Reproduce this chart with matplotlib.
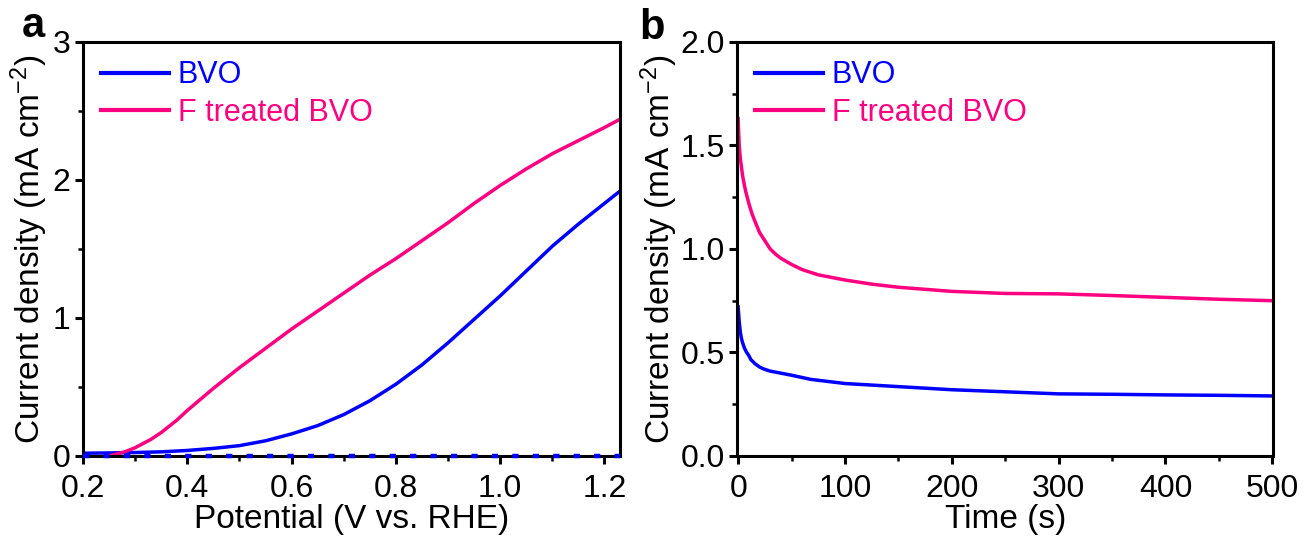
import matplotlib.pyplot as plt
from matplotlib.ticker import MultipleLocator

plt.rcParams['font.family'] = ['Liberation Sans', 'DejaVu Sans']
plt.rcParams['mathtext.fontset'] = 'custom'
plt.rcParams['mathtext.rm'] = 'Liberation Sans'
plt.rcParams['mathtext.it'] = 'Liberation Sans'

# panel a : LSV
pot_bvo = [0.20, 0.25, 0.30, 0.35, 0.40, 0.45, 0.50, 0.55, 0.60, 0.65, 0.70, 0.75, 0.80, 0.85,
           0.90, 0.95, 1.00, 1.05, 1.10, 1.15, 1.20, 1.23]
j_bvo = [0.020, 0.022, 0.025, 0.030, 0.040, 0.055, 0.075, 0.11, 0.16, 0.22, 0.30, 0.40, 0.52, 0.66,
         0.82, 0.99, 1.16, 1.34, 1.52, 1.68, 1.83, 1.92]
pot_f = [0.22, 0.25, 0.28, 0.30, 0.33, 0.35, 0.38, 0.40, 0.45, 0.50, 0.55, 0.60, 0.65, 0.70, 0.75,
         0.80, 0.85, 0.90, 0.95, 1.00, 1.05, 1.10, 1.15, 1.20, 1.23]
j_f = [-0.01, 0.0, 0.03, 0.06, 0.12, 0.17, 0.26, 0.33, 0.49, 0.64, 0.78, 0.92, 1.05, 1.18, 1.31,
       1.43, 1.56, 1.69, 1.83, 1.96, 2.08, 2.19, 2.285, 2.38, 2.44]
pot_dark = [0.20, 1.23]
j_dark = [0.003, 0.003]

# panel b : i-t
t_bvo = [0, 1, 2, 3, 4, 6, 8, 10, 12, 16, 20, 24, 30, 40, 50, 68, 100, 150, 200, 250, 300, 350,
         400, 450, 500]
i_bvo = [0.72, 0.65, 0.60, 0.57, 0.55, 0.52, 0.50, 0.485, 0.465, 0.445, 0.43, 0.42, 0.41, 0.40,
         0.39, 0.37, 0.35, 0.335, 0.32, 0.31, 0.30, 0.298, 0.295, 0.293, 0.29]
t_f = [0, 1, 2, 3, 4, 5, 7, 10, 13, 16, 20, 25, 30, 35, 40, 50, 60, 75, 100, 125, 150, 200, 250,
       300, 350, 400, 450, 500]
i_f = [1.63, 1.50, 1.44, 1.40, 1.36, 1.33, 1.28, 1.22, 1.17, 1.13, 1.08, 1.04, 1.00, 0.975, 0.955,
       0.925, 0.90, 0.875, 0.85, 0.83, 0.815, 0.795, 0.785, 0.783, 0.775, 0.766, 0.757, 0.75]

blue = '#0000ff'
pink = '#ff0080'

fig = plt.figure(figsize=(13.08, 5.47), dpi=100)
ax1 = fig.add_axes([0.0635, 0.1664, 0.4106, 0.757])
ax2 = fig.add_axes([0.5635, 0.1664, 0.4100, 0.757])

ax1.plot(pot_bvo, j_bvo, color=blue, lw=2.5, label='BVO')
ax1.plot(pot_f, j_f, color=pink, lw=2.5, label='F treated BVO')
ax1.plot(pot_dark, j_dark, color=blue, lw=3.2, ls=(0, (1.4, 3.2)), clip_on=False, zorder=5)
ax1.set_xlim(0.2, 1.23)
ax1.set_ylim(0, 3)
ax1.xaxis.set_major_locator(MultipleLocator(0.2))
ax1.xaxis.set_minor_locator(MultipleLocator(0.1))
ax1.yaxis.set_major_locator(MultipleLocator(1))
ax1.yaxis.set_minor_locator(MultipleLocator(0.5))
ax1.xaxis.set_major_formatter(plt.FormatStrFormatter('%.1f'))
ax1.set_xlabel('Potential (V vs. RHE)', fontsize=24, labelpad=0)
ax1.set_ylabel('Current density (mA cm$^{-2}$)', fontsize=24, labelpad=2)

ax2.plot(t_bvo, i_bvo, color=blue, lw=2.5, label='BVO')
ax2.plot(t_f, i_f, color=pink, lw=2.5, label='F treated BVO')
ax2.set_xlim(-1, 501)
ax2.set_ylim(0, 2)
ax2.xaxis.set_major_locator(MultipleLocator(100))
ax2.xaxis.set_minor_locator(MultipleLocator(50))
ax2.yaxis.set_major_locator(MultipleLocator(0.5))
ax2.yaxis.set_minor_locator(MultipleLocator(0.25))
ax2.yaxis.set_major_formatter(plt.FormatStrFormatter('%.1f'))
ax2.set_xlabel('Time (s)', fontsize=24, labelpad=0)
ax2.set_ylabel('Current density (mA cm$^{-2}$)', fontsize=24, labelpad=0)

for ax in [ax1, ax2]:
    for s in ax.spines.values():
        s.set_linewidth(2.2)
    ax.tick_params(which='major', direction='out', length=6, width=2.2, labelsize=23, pad=3)
    ax.tick_params(axis='x', which='major', pad=7)
    ax.tick_params(which='minor', direction='out', length=3.5, width=1.8)
    leg = ax.legend(loc='upper left', frameon=False, fontsize=22, handlelength=2.2,
                    handletextpad=0.3, labelspacing=0.25, borderaxespad=0.3, borderpad=0.3)
    for line, text in zip(leg.get_lines(), leg.get_texts()):
        text.set_color(line.get_color())
        line.set_linewidth(3)

fig.text(33 / 1308, 1 - 26 / 547, 'a', fontsize=30, fontweight='bold', ha='center', va='center')
fig.text(652 / 1308, 1 - 28 / 547, 'b', fontsize=30, fontweight='bold', ha='center', va='center')

fig.savefig('out.png', dpi=100)
